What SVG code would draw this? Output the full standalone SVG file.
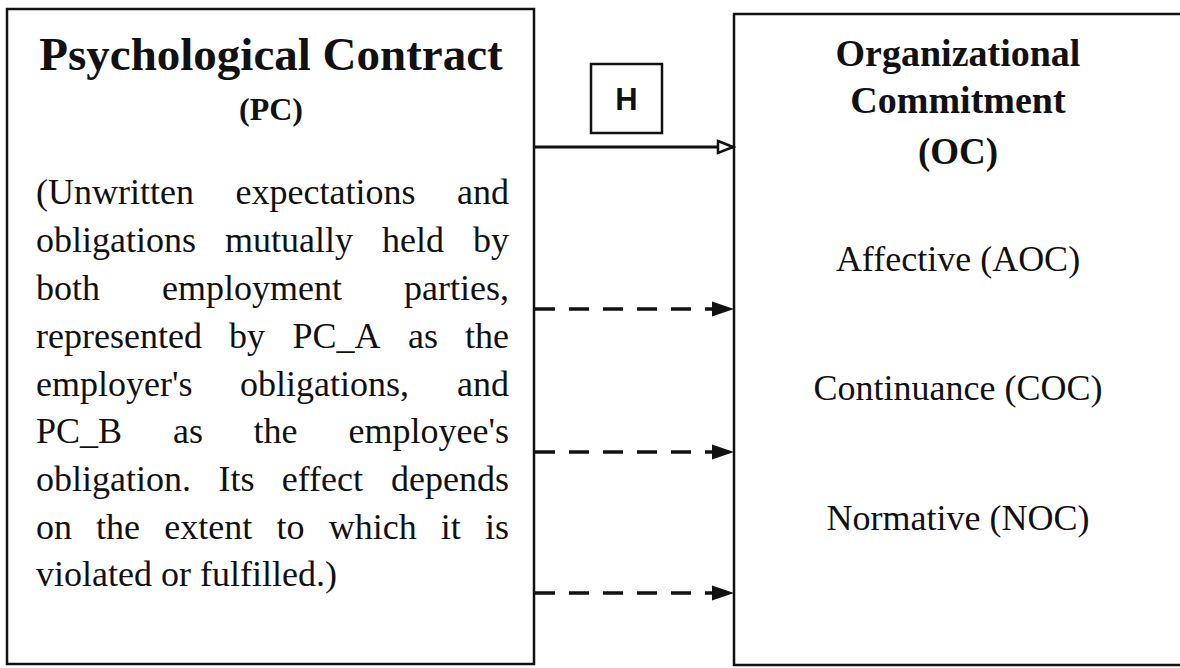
<svg xmlns="http://www.w3.org/2000/svg" width="1180" height="668" viewBox="0 0 1180 668">
<style>
.box{fill:#fff;stroke:#111;stroke-width:2.5}
.t{font-family:"Liberation Serif","Times New Roman",serif;fill:#111}
.b{font-weight:bold}
.body{font-size:36px}
.c{text-anchor:middle}
.conn{stroke:#111;stroke-width:3;fill:none}
.dash{stroke-width:3.5;stroke-dasharray:20 14}
</style>
<defs>
<marker id="fa" markerWidth="24" markerHeight="18" refX="23" refY="9" orient="auto" markerUnits="userSpaceOnUse">
<path d="M1,1.5 L23,9 L1,16.5 Z" fill="#111"/>
</marker>
<marker id="oa" markerWidth="20" markerHeight="16" refX="17" refY="8" orient="auto" markerUnits="userSpaceOnUse">
<path d="M2,2 L17,8 L2,14 Z" fill="#fff" stroke="#111" stroke-width="2.5"/>
</marker>
</defs>
<rect width="1180" height="668" fill="#fff"/>
<g id="pc">
<rect class="box" x="7" y="9" width="527" height="655"/>
<text class="t b c" x="271" y="70" font-size="47">Psychological Contract</text>
<text class="t b c" x="271" y="120" font-size="32">(PC)</text>
<text class="t body" y="204"><tspan x="36">(Unwritten</tspan><tspan x="235.5">expectations</tspan><tspan x="457">and</tspan></text>
<text class="t body" y="252"><tspan x="36">obligations</tspan><tspan x="225">mutually</tspan><tspan x="382">held</tspan><tspan x="473">by</tspan></text>
<text class="t body" y="300"><tspan x="36">both</tspan><tspan x="162">employment</tspan><tspan x="404">parties,</tspan></text>
<text class="t body" y="348"><tspan x="36">represented</tspan><tspan x="229">by</tspan><tspan x="292.5">PC_A</tspan><tspan x="408">as</tspan><tspan x="465">the</tspan></text>
<text class="t body" y="396"><tspan x="36">employer's</tspan><tspan x="240">obligations,</tspan><tspan x="457">and</tspan></text>
<text class="t body" y="443"><tspan x="36">PC_B</tspan><tspan x="173">as</tspan><tspan x="253.6">the</tspan><tspan x="348.5">employee's</tspan></text>
<text class="t body" y="491"><tspan x="36">obligation.</tspan><tspan x="218.4">Its</tspan><tspan x="281.8">effect</tspan><tspan x="391">depends</tspan></text>
<text class="t body" y="539"><tspan x="36">on</tspan><tspan x="96">the</tspan><tspan x="164.3">extent</tspan><tspan x="276.5">to</tspan><tspan x="328.7">which</tspan><tspan x="440.8">it</tspan><tspan x="485">is</tspan></text>
<text class="t body" x="36" y="586">violated or fulfilled.)</text>
</g>
<g id="oc">
<rect class="box" x="734" y="14" width="460" height="651"/>
<text class="t b c" x="958" y="66" font-size="38">Organizational</text>
<text class="t b c" x="958" y="113" font-size="38">Commitment</text>
<text class="t b c" x="958" y="164" font-size="37">(OC)</text>
<text class="t c body" x="958" y="271">Affective (AOC)</text>
<text class="t c body" x="958" y="400">Continuance (COC)</text>
<text class="t c body" x="958" y="530">Normative (NOC)</text>
</g>
<g id="h">
<rect class="box" x="591" y="64" width="71" height="69"/>
<text x="626.5" y="110" font-family="Liberation Sans, Arial, sans-serif" font-size="31" font-weight="bold" text-anchor="middle" fill="#111">H</text>
</g>
<g id="connectors">
<line class="conn" x1="535" y1="147" x2="733" y2="147" marker-end="url(#oa)"/>
<line class="conn dash" x1="535" y1="309" x2="734" y2="309" marker-end="url(#fa)"/>
<line class="conn dash" x1="535" y1="452" x2="734" y2="452" marker-end="url(#fa)"/>
<line class="conn dash" x1="535" y1="593" x2="734" y2="593" marker-end="url(#fa)"/>
</g>
</svg>
